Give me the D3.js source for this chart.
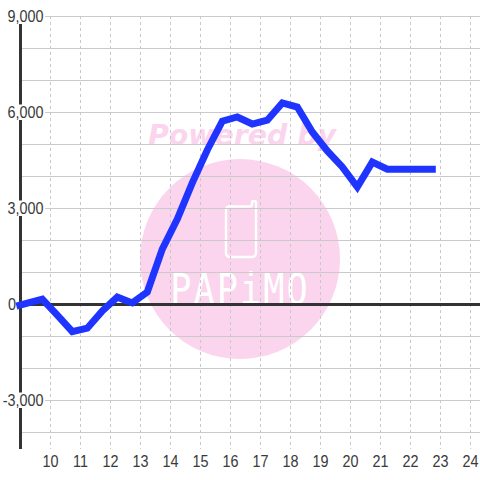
<!DOCTYPE html>
<html><head><meta charset="utf-8">
<script src="https://cdn.jsdelivr.net/npm/d3@7"></script>
<style>html,body{margin:0;padding:0;background:#fff}svg{display:block}text{font-family:"Liberation Sans",Arial,sans-serif}</style>
</head><body><svg id="c" width="480" height="480"></svg>
<script>
const hours=[9,9.75,10.25,10.75,11.25,11.75,12.25,12.75,13.25,13.75,14.25,14.75,15.25,15.75,16.25,16.75,17.25,17.75,18.25,18.75,19.25,19.75,20.25,20.75,21.25,21.75,22.25,22.75];
const values=[-20,170,-330,-850,-740,-200,230,50,390,1730,2670,3800,4830,5730,5860,5640,5760,6300,6170,5390,4800,4300,3670,4450,4230,4230,4230,4230];
const xTickValues=[10,11,12,13,14,15,16,17,18,19,20,21,22,23,24];
const yGridValues=[9000,8000,7000,6000,5000,4000,3000,2000,1000,-1000,-2000,-3000,-4000];
const yLabelValues=[9000,6000,3000,0,-3000];
const watermarkTitle="Powered by";
const watermarkName="PAPiMO";

const svg=d3.select("#c");
const x=d3.scaleLinear().domain([9,24]).range([20.5,470.5]);
const y=d3.scaleLinear().domain([0,9000]).range([304.5,16.5]);
const plotTop=16,plotBottom=449,plotLeft=20.5,plotRight=480;

// watermark
const wm=svg.append("g");
wm.append("circle").attr("cx",240).attr("cy",259).attr("r",100).attr("fill","#fbd5ed");
wm.append("text").attr("x",242).attr("y",144.5).attr("text-anchor","middle")
  .attr("font-size",29).attr("fill","#fbd5ed")
  .attr("style",'font-family:"DejaVu Sans";font-weight:bold;font-style:oblique')
  .attr("textLength",188).attr("lengthAdjust","spacingAndGlyphs").text(watermarkTitle);
wm.append("path").attr("d","M230 206.5H250a2 2 0 0 0 2 -2V203a2 2 0 0 1 4 0V253a4 4 0 0 1 -4 4H230a4 4 0 0 1 -4 -4V210a4 4 0 0 1 4 -4Z")
  .attr("fill","none").attr("stroke","#fff").attr("stroke-width",2.4);
wm.append("text").attr("transform","translate(240,304) scale(0.82,1)").attr("text-anchor","middle")
  .attr("font-size",43).attr("letter-spacing",2.5).attr("fill","#fff")
  .attr("style",'font-family:"DejaVu Sans Mono";font-weight:400')
  .text(watermarkName);

// grids
svg.append("g").selectAll("line").data(xTickValues).join("line")
  .attr("x1",d=>x(d)).attr("x2",d=>x(d)).attr("y1",plotTop).attr("y2",plotBottom)
  .attr("stroke","#c8c8c8").attr("stroke-width",1).attr("stroke-dasharray","3,3");
svg.append("g").selectAll("line").data(yGridValues).join("line")
  .attr("x1",plotLeft).attr("x2",plotRight).attr("y1",d=>y(d)).attr("y2",d=>y(d))
  .attr("stroke","#cacaca").attr("stroke-width",1.1);

// axis lines
svg.append("line").attr("x1",plotLeft).attr("x2",plotLeft).attr("y1",plotTop).attr("y2",plotBottom).attr("stroke","#333").attr("stroke-width",3);
svg.append("line").attr("x1",plotLeft).attr("x2",plotRight).attr("y1",y(0)).attr("y2",y(0)).attr("stroke","#333").attr("stroke-width",3);

// y labels with white plates
const fmt=d3.format(",");
const squeeze=function(){const t=d3.select(this);t.attr("textLength",this.getComputedTextLength()*0.91).attr("lengthAdjust","spacingAndGlyphs");};
const yl=svg.append("g").selectAll("g").data(yLabelValues).join("g");
yl.filter(d=>d!==0).append("rect").attr("x",0).attr("width",45).attr("y",d=>y(d)-8).attr("height",15.5).attr("fill","#fff");
yl.append("text").attr("x",d=>d===0?16:43.5).attr("y",d=>y(d)+5.5).attr("text-anchor","end")
  .attr("font-size",15.8).attr("fill","#3a3a3a").text(d=>fmt(d).replace("−","-")).each(squeeze);

// x labels
svg.append("g").selectAll("text").data(xTickValues).join("text")
  .attr("x",d=>x(d)).attr("y",466.5).attr("text-anchor","middle").attr("font-size",15.8).attr("fill","#3a3a3a").text(d=>d).each(squeeze);

// series
const line=d3.line().x((d,i)=>x(hours[i])).y(d=>y(d));
svg.append("path").attr("d",line(values)).attr("transform","translate(-0.7,0)").attr("fill","none").attr("stroke","#1f35ff").attr("stroke-width",7).attr("stroke-linejoin","miter").attr("stroke-linecap","square");
</script></body></html>
